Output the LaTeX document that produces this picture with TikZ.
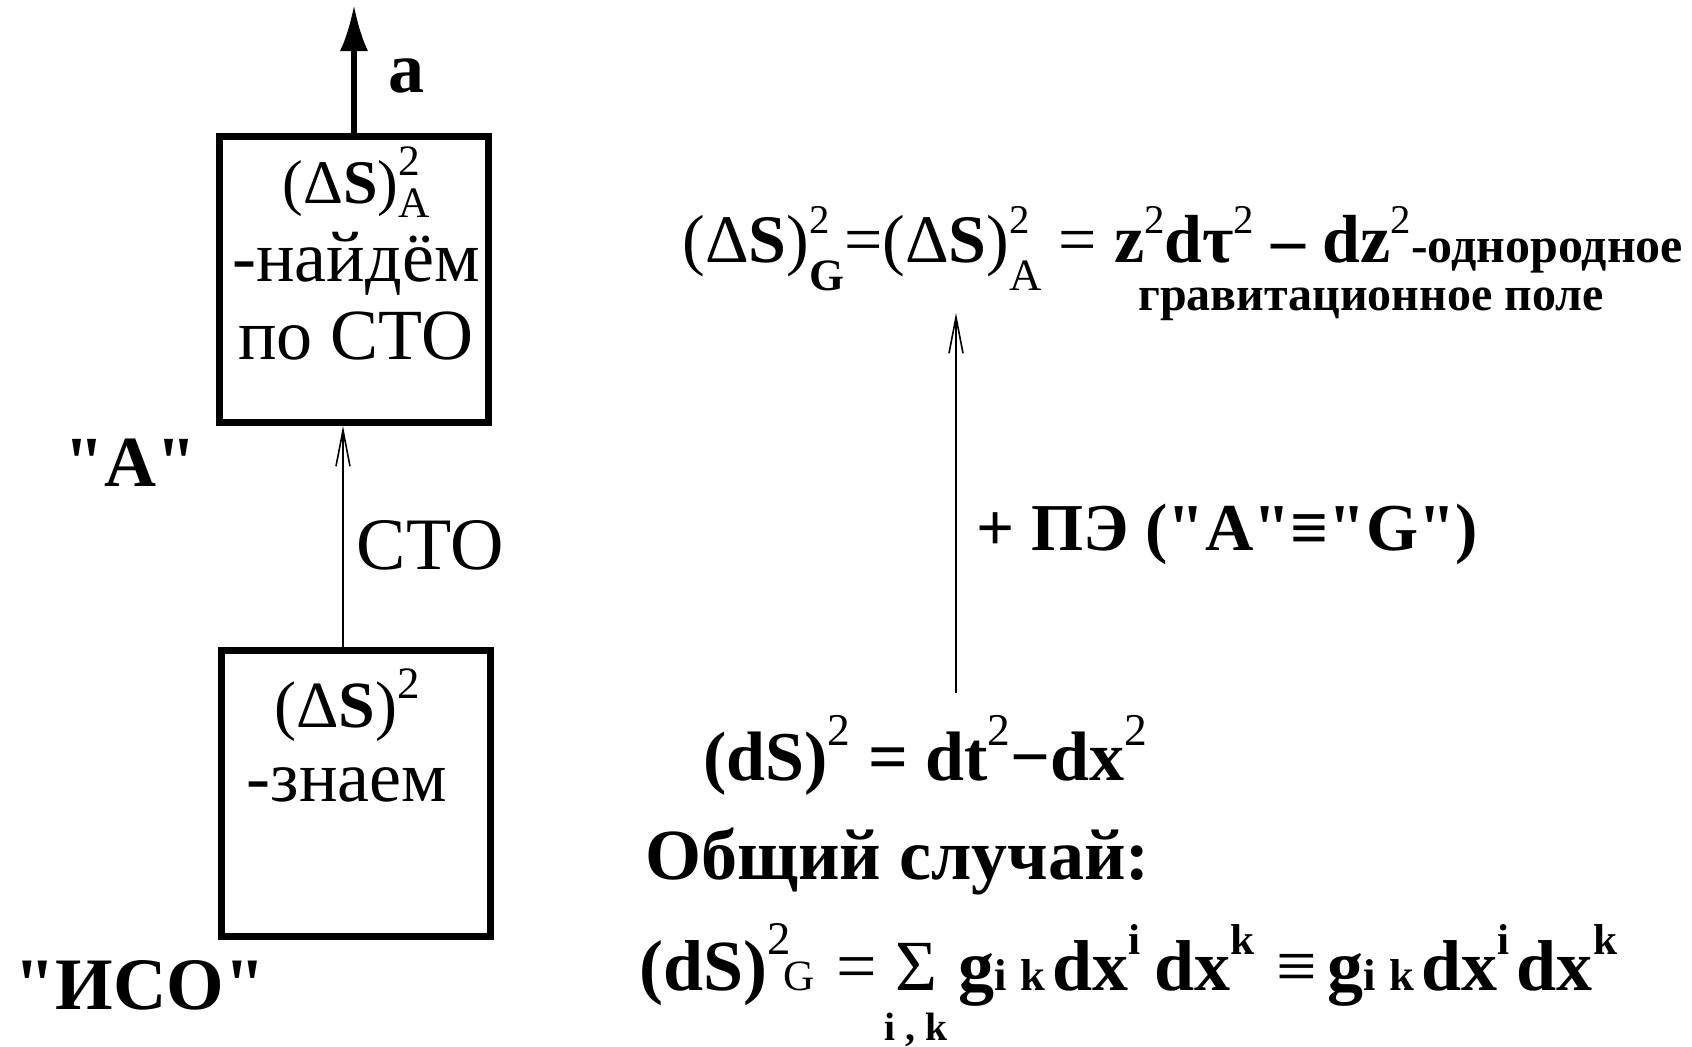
\documentclass[tikz,border=0pt]{standalone}
\usepackage{fontspec}
\setmainfont{Liberation Serif}[Ligatures=TeXOff]
\usepackage{graphicx}
\usetikzlibrary{arrows.meta,positioning}

% raised / lowered small indices
\newcommand\up[3][.42em]{\raisebox{#1}{\scalebox{#2}{#3}}}
\newcommand\dn[3][-.3em]{\raisebox{#1}{\scalebox{#2}{#3}}}
\newcommand\sumik{\ooalign{\mdseries Σ\cr\hidewidth\raisebox{-.7em}{\scalebox{.55}{\bfseries i , k}}\hidewidth\cr}}

\begin{document}
\begin{tikzpicture}[x=0.5pt,y=-0.5pt,
  frame/.style={draw, line width=3.5pt, minimum width=134.5pt, minimum height=143pt, inner sep=0pt},
  boxtext/.style={align=center, inner sep=0pt, font=\fontsize{36}{40}\selectfont},
  lbl/.style={inner sep=0pt, anchor=base west, font=\fontsize{36}{40}\selectfont\bfseries},
  eq/.style={inner sep=0pt, anchor=base west},
  thickarr/.style={-{Latex[length=23pt,width=14pt]}, line width=2.6pt},
  thinarr/.style={-{Straight Barb[length=18pt,width=7pt]}, line width=0.8pt},
]
\path[fill=white] (0,0) rectangle (1692,1046);
\useasboundingbox (0,0) rectangle (1692,1046);

% left column
\node[frame] (boxA) at (354,279.5) {};
\node[frame, below=110.5pt of boxA, xshift=1pt] (boxI) {};
\node[boxtext, anchor=north] (txtA) at (356,146)
  {{\fontsize{31}{36}\selectfont(Δ\textbf{S})\rlap{\up[.45em]{.7}{2}}\dn[-.24em]{.7}{A}}\\[-1pt]-найдём\\[-1pt]по СТО};
\node[boxtext, anchor=north] (txtI) at (347,668)
  {{\fontsize{33}{36}\selectfont(Δ\textbf{S})\up[.45em]{.68}{2}}\\[-3pt]-знаем};
\node[lbl] (lblA) at (64,486) {"A"};
\node[lbl, font=\fontsize{37}{40}\selectfont\bfseries] (lblI) at (14,1009) {"ИСО"};
\node[lbl] (acc) at (388,92) {a};

\coordinate (atip) at (354,5);
\coordinate (stoax) at (343,0);
\draw[thickarr] (boxA.north) -- (atip);
\draw[thinarr] (boxI.north -| stoax) -- (boxA.south -| stoax)
  node[pos=.46, anchor=west, inner sep=0pt, xshift=6.5pt, font=\fontsize{37}{40}\selectfont] (sto) {СТО};

% right column
\node[eq, font=\fontsize{34}{38}\selectfont] (field) at (682,262)
  {(Δ\textbf{S})\rlap{\up[.42em]{.6}{2}}\dn[-.42em]{.66}{\textbf{G}}=(Δ\textbf{S})\rlap{\up[.42em]{.6}{2}}\dn[-.42em]{.66}{A}
   = \textbf{z}\up[.42em]{.6}{2}\textbf{dτ}\up[.42em]{.6}{2} \textbf{–} \textbf{dz}\up[.42em]{.6}{2}{\fontsize{25}{28}\selectfont\textbf{-однородное}}};
\node[eq, font=\fontsize{24}{28}\selectfont\bfseries] (fieldtxt) at (1138,310) {гравитационное поле};

\coordinate (pe0) at (956,693);
\coordinate (pe1) at (956,313);
\draw[thinarr] (pe0) -- (pe1);
\node[eq, font=\fontsize{33.5}{36}\selectfont\bfseries] (pe) at (976,550) {+ ПЭ ("A"≡"G")};

\node[eq, font=\fontsize{35}{38}\selectfont\bfseries] (flat) at (703,780)
  {(dS)\up[.5em]{.65}{\mdseries 2} = dt\up[.5em]{.65}{\mdseries 2}−dx\up[.5em]{.65}{\mdseries 2}};
\node[eq, font=\fontsize{36}{40}\selectfont\bfseries] (gen) at (645,879) {Общий случай:};
\node[eq, font=\fontsize{36}{40}\selectfont\bfseries] (metric) at (639,990)
  {(dS)\up[.5em]{.65}{\mdseries 2}\kern-.1em\scalebox{.6}{\mdseries G}\hspace{.3em}{\mdseries =}\hspace{.25em}\sumik\hspace{.3em}g\scalebox{.62}{i\hspace{.3em}k}\hspace{.1em}dx\up[.5em]{.6}{i}\hspace{.2em}dx\up[.5em]{.6}{k}\hspace{.3em}{\mdseries ≡}\hspace{.15em}g\scalebox{.62}{i\hspace{.3em}k}\hspace{.1em}dx\up[.5em]{.6}{i}\hspace{.1em}dx\up[.5em]{.6}{k}};
\end{tikzpicture}
\end{document}
